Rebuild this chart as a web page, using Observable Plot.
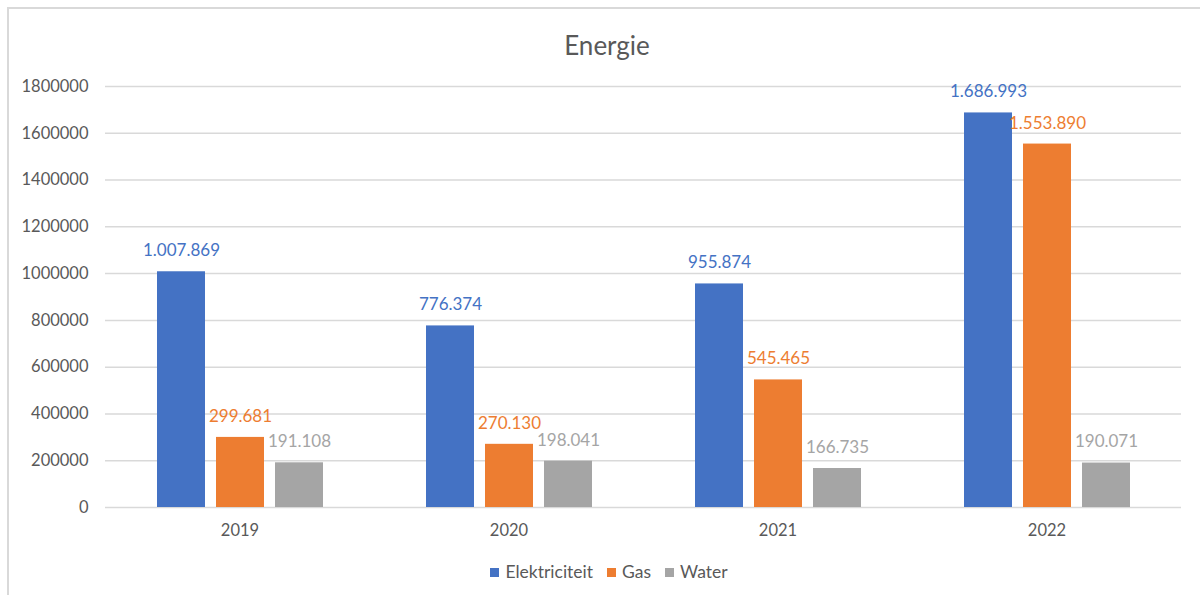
<!DOCTYPE html>
<html>
<head>
<meta charset="utf-8">
<script src="https://cdn.jsdelivr.net/npm/d3@7"></script>
<script src="https://cdn.jsdelivr.net/npm/@observablehq/plot@0.6"></script>
<style>
  html, body { margin: 0; padding: 0; background: #fff; }
  #wrap { position: relative; width: 1200px; height: 595px; overflow: hidden; font-family: Lato, "Open Sans", sans-serif; }
  #frame { position: absolute; left: 7px; top: 7px; width: 1300px; height: 700px; border-left: 2px solid #d9d9d9; border-top: 2px solid #d9d9d9; }
  #title { position: absolute; left: 0; top: 28px; width: 1214px; text-align: center; font-size: 26px; color: #595959; line-height: 34px; }
  #chart { position: absolute; left: 0; top: 0; }
  #legend { position: absolute; left: 0; top: 561px; width: 1218px; display: flex; justify-content: center; align-items: center; font-size: 17.5px; color: #595959; line-height: 22px; }
  .item { display: flex; align-items: center; margin: 0 7px; }
  .sw { width: 9px; height: 9px; margin-right: 6px; }
</style>
</head>
<body>
<div id="wrap">
  <div id="frame"></div>
  <div id="chart"></div>
  <div id="title">Energie</div>
  <div id="legend"></div>
</div>
<script>
const years = ["2019", "2020", "2021", "2022"];
const series = ["Elektriciteit", "Gas", "Water"];
const colors = ["#4472C4", "#ED7D31", "#A5A5A5"];
const elektriciteit = [1007869, 776374, 955874, 1686993];
const gas = [299681, 270130, 545465, 1553890];
const water = [191108, 198041, 166735, 190071];
const yTicks = [0, 200000, 400000, 600000, 800000, 1000000, 1200000, 1400000, 1600000, 1800000];

const seriesValues = [elektriciteit, gas, water];
const data = [];
years.forEach((yr, i) => {
  series.forEach((s, j) => data.push({year: yr, series: s, value: seriesValues[j][i]}));
});
const fmt = v => d3.format(",")(v).replace(/,/g, ".");

const chart = Plot.plot({
  width: 1200,
  height: 560,
  marginTop: 86,
  marginBottom: 53,
  marginLeft: 104,
  marginRight: 18,
  style: {fontFamily: "Lato, 'Open Sans', sans-serif", fontSize: "16.5px", color: "#595959", background: "transparent"},
  fx: {domain: years, paddingInner: 0, paddingOuter: 0, label: null},
  x: {domain: series, paddingInner: 0.19, paddingOuter: 0.87, axis: null},
  y: {domain: [0, 1800000]},
  color: {domain: series, range: colors},
  marks: [
    Plot.ruleY(yTicks, {stroke: "#d9d9d9", strokeWidth: 1.5}),
    Plot.axisY(yTicks, {tickSize: 0, tickPadding: 17, tickFormat: d => String(d), label: null, fill: "#595959"}),
    Plot.axisFx({anchor: "bottom", tickSize: 0, tickPadding: 17, label: null, fill: "#595959"}),
    Plot.barY(data, {fx: "year", x: "series", y: "value", fill: "series"}),
    Plot.text(data, {fx: "year", x: "series", y: "value", text: d => fmt(d.value), fill: "series", dy: -21, fontSize: 17})
  ]
});
document.getElementById("chart").appendChild(chart);

const legend = document.getElementById("legend");
series.forEach((s, i) => {
  const it = document.createElement("div");
  it.className = "item";
  const sw = document.createElement("div");
  sw.className = "sw";
  sw.style.background = colors[i];
  const tx = document.createElement("span");
  tx.textContent = s;
  it.appendChild(sw);
  it.appendChild(tx);
  legend.appendChild(it);
});
</script>
</body>
</html>
